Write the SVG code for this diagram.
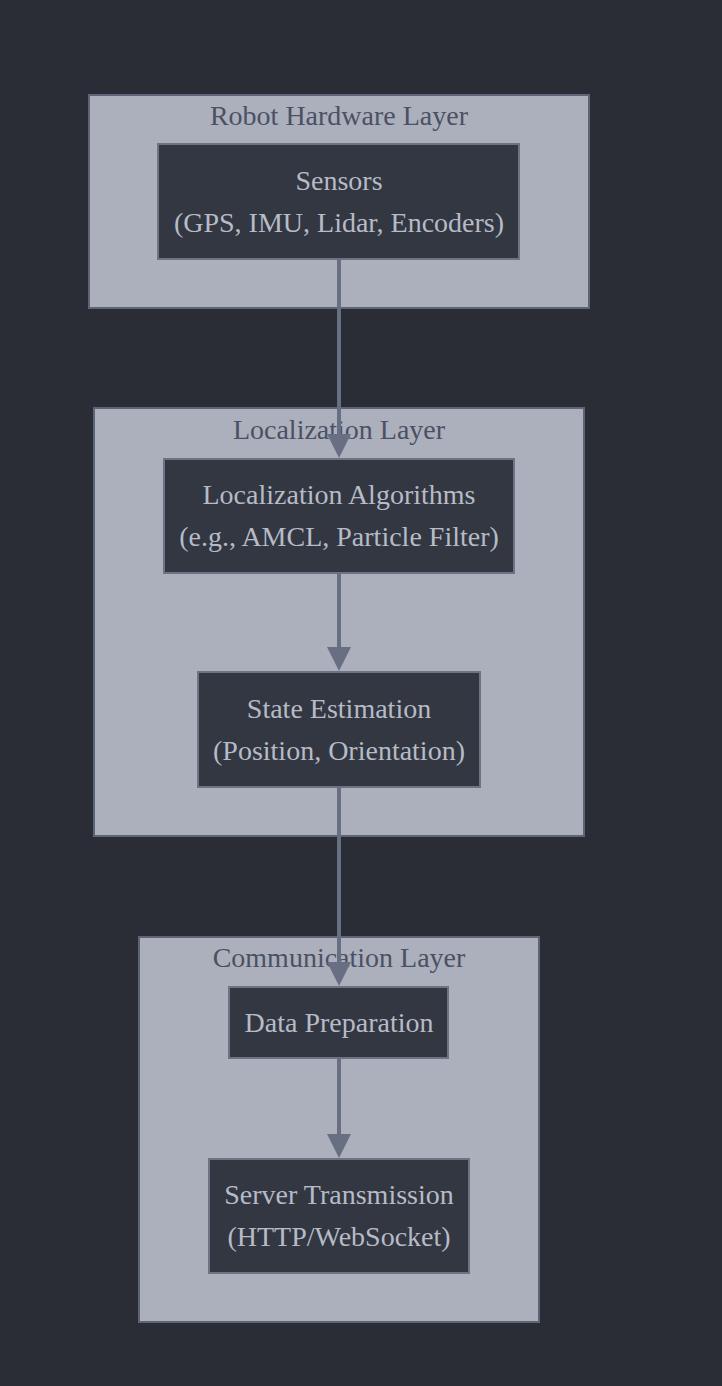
<svg xmlns="http://www.w3.org/2000/svg" width="722" height="1386" viewBox="0 0 722 1386">
<defs>
<style>
.cluster{fill:#abb0bc;stroke:#5d6475;stroke-width:2}
.ctitle{font-family:"Liberation Serif","Times New Roman",serif;font-size:28px;fill:#4b5163;text-anchor:middle}
.node{fill:#333741;stroke:#6b7385;stroke-width:2}
.ntext{font-family:"Liberation Serif","Times New Roman",serif;font-size:28px;fill:#b6bbc7;text-anchor:middle}
.edge{stroke:#686f82;stroke-width:4;fill:none}
</style>
<marker id="arrow" markerUnits="userSpaceOnUse" markerWidth="26" markerHeight="26" refX="0" refY="12" orient="auto">
<path d="M0,0 L24,12 L0,24 Z" fill="#686f82"/>
</marker>
</defs>
<rect width="722" height="1386" fill="#2a2d35"/>
<g id="cluster-hardware">
<rect class="cluster" x="89" y="95" width="500" height="213"/>
<text class="ctitle" x="339" y="125">Robot Hardware Layer</text>
</g>
<g id="cluster-localization">
<rect class="cluster" x="94" y="408" width="490" height="428"/>
<text class="ctitle" x="339" y="439">Localization Layer</text>
</g>
<g id="cluster-communication">
<rect class="cluster" x="139" y="937" width="400" height="385"/>
<text class="ctitle" x="339" y="967">Communication Layer</text>
</g>
<g id="node-sensors">
<rect class="node" x="158" y="144" width="361" height="115"/>
<text class="ntext" x="339" y="190">Sensors</text>
<text class="ntext" x="339" y="232">(GPS, IMU, Lidar, Encoders)</text>
</g>
<g id="node-localization">
<rect class="node" x="164" y="459" width="350" height="114"/>
<text class="ntext" x="339" y="504">Localization Algorithms</text>
<text class="ntext" x="339" y="546">(e.g., AMCL, Particle Filter)</text>
</g>
<g id="node-state">
<rect class="node" x="198" y="672" width="282" height="115"/>
<text class="ntext" x="339" y="718">State Estimation</text>
<text class="ntext" x="339" y="760">(Position, Orientation)</text>
</g>
<g id="node-dataprep">
<rect class="node" x="229" y="987" width="219" height="71"/>
<text class="ntext" x="339" y="1032">Data Preparation</text>
</g>
<g id="node-server">
<rect class="node" x="209" y="1159" width="260" height="114"/>
<text class="ntext" x="339" y="1204">Server Transmission</text>
<text class="ntext" x="339" y="1246">(HTTP/WebSocket)</text>
</g>
<g id="connectors">
<path class="edge" d="M339,259 L339,434" marker-end="url(#arrow)"/>
<path class="edge" d="M339,573 L339,647" marker-end="url(#arrow)"/>
<path class="edge" d="M339,787 L339,962" marker-end="url(#arrow)"/>
<path class="edge" d="M339,1058 L339,1134" marker-end="url(#arrow)"/>
</g>
</svg>
